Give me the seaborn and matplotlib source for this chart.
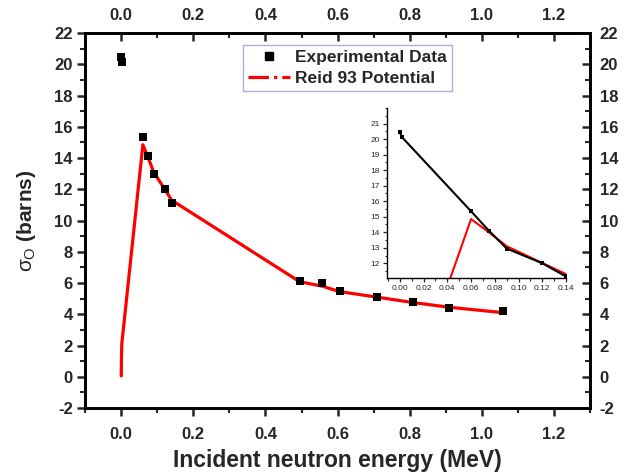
import numpy as np
import pandas as pd
import matplotlib
matplotlib.use("Agg")
import matplotlib.pyplot as plt
from matplotlib.lines import Line2D
from matplotlib.ticker import MultipleLocator
import seaborn as sns

# experimental points (MeV, barns)
exp_energy = [0.0, 0.0015, 0.06, 0.075, 0.09, 0.12, 0.14, 0.495, 0.557, 0.606, 0.708, 0.809, 0.909, 1.06]
exp_sigma = [20.45, 20.15, 15.35, 14.1, 12.95, 12.0, 11.15, 6.12, 6.02, 5.5, 5.12, 4.77, 4.42, 4.23]

# Reid 93 potential curve
reid_energy = [0.0, 0.0005, 0.0015, 0.06, 0.075, 0.09, 0.12, 0.14, 0.495, 0.557, 0.606, 0.708, 0.809, 0.909, 1.06]
reid_sigma = [0.05, 1.0, 2.1, 14.85, 14.0, 13.1, 12.02, 11.3, 6.08, 5.8, 5.45, 5.1, 4.75, 4.45, 4.1]

exp_df = pd.DataFrame({"E": exp_energy, "sigma": exp_sigma})
reid_df = pd.DataFrame({"E": reid_energy, "sigma": reid_sigma})
ins_exp = exp_df[exp_df["E"] <= 0.14]
ins_reid = reid_df[reid_df["E"] <= 0.14]

xt = np.arange(0.0, 1.21, 0.2)
yt = np.arange(-2, 23, 2)

sns.set_theme(style="ticks")
plt.rcParams["font.family"] = ["Liberation Sans", "DejaVu Sans"]
plt.rcParams["mathtext.fontset"] = "custom"
plt.rcParams["mathtext.rm"] = "Liberation Sans"
plt.rcParams["mathtext.it"] = "Liberation Sans"

fig = plt.figure(figsize=(6.31, 4.72), dpi=100)
ax = fig.add_axes([0.135, 0.1356, 0.80, 0.7944])

sns.lineplot(data=reid_df, x="E", y="sigma", ax=ax, color="red", lw=2.3,
             estimator=None, sort=False)
sns.scatterplot(data=exp_df, x="E", y="sigma", ax=ax, color="black", marker="s",
                s=40, linewidth=0, zorder=3)

ax.set_xlim(-0.1, 1.3)
ax.set_ylim(-2, 22)
ax.set_xticks(xt)
ax.set_yticks(yt)
ax.set_xticklabels([f"{v:.1f}" for v in xt], fontweight="bold")
ax.set_yticklabels([f"{v:d}" for v in yt], fontweight="bold")
ax.xaxis.set_minor_locator(MultipleLocator(0.1))
ax.yaxis.set_minor_locator(MultipleLocator(1))
for s in ax.spines.values():
    s.set_linewidth(1.8)
    s.set_color("black")
ax.tick_params(which="major", direction="out", length=6, width=1.8, labelsize=12)
ax.tick_params(axis="x", which="major", pad=8)
ax.tick_params(axis="y", which="major", pad=3)
ax.tick_params(which="minor", direction="out", length=3.5, width=1.5)
ax.set_xlabel("Incident neutron energy (MeV)", fontsize=16.5, fontweight="bold", labelpad=5)
ax.set_ylabel(r"$\sigma_{\rm O}$ (barns)", fontsize=15, fontweight="bold", labelpad=12)

# mirrored top and right axes
axt = ax.twiny()
axt.set_xlim(ax.get_xlim())
axt.set_xticks(xt)
axt.set_xticklabels([f"{v:.1f}" for v in xt], fontweight="bold")
axt.xaxis.set_minor_locator(MultipleLocator(0.1))
axt.tick_params(which="major", direction="in", length=6, width=1.8, labelsize=12, pad=7)
axt.tick_params(which="minor", direction="in", length=3.5, width=1.5)
axr = ax.twinx()
axr.set_ylim(ax.get_ylim())
axr.set_yticks(yt)
axr.set_yticklabels([f"{v:d}" for v in yt], fontweight="bold")
axr.yaxis.set_minor_locator(MultipleLocator(1))
axr.tick_params(which="major", direction="in", length=6, width=1.8, labelsize=12, pad=7)
axr.tick_params(which="minor", direction="in", length=3.5, width=1.5)
for a in (axt, axr):
    for s in a.spines.values():
        s.set_linewidth(1.8)
        s.set_color("black")

handles = [Line2D([], [], color="black", marker="s", ls="none", markersize=6),
           Line2D([], [], color="red", ls="-.", lw=2.3)]
leg = ax.legend(handles, ["Experimental Data", "Reid 93 Potential"],
                loc="upper left", bbox_to_anchor=(0.313, 0.968), frameon=True,
                fancybox=False, edgecolor="#9999dd", borderpad=0.3,
                borderaxespad=0, handlelength=2.4, handletextpad=0.3,
                labelspacing=0.3, prop={"weight": "bold", "size": 12.5})
leg.get_frame().set_linewidth(1.0)

# inset
axi = fig.add_axes([0.613, 0.411, 0.284, 0.36])
sns.lineplot(data=ins_reid, x="E", y="sigma", ax=axi, color="red", lw=1.5,
             estimator=None, sort=False)
sns.lineplot(data=ins_exp, x="E", y="sigma", ax=axi, color="black", lw=1.5,
             estimator=None, sort=False, marker="s", markersize=3.5,
             markeredgewidth=0)
axi.set_xlim(-0.011, 0.14)
axi.set_ylim(11.05, 22)
axi.set_xticks(np.arange(0.0, 0.141, 0.02))
axi.set_xticklabels([f"{v:.2f}" for v in np.arange(0.0, 0.141, 0.02)])
axi.set_yticks(np.arange(12, 21.1, 1))
axi.xaxis.set_minor_locator(MultipleLocator(0.01))
axi.yaxis.set_minor_locator(MultipleLocator(0.5))
axi.patch.set_alpha(0)
axi.spines["top"].set_visible(False)
axi.spines["right"].set_visible(False)
for s in ("left", "bottom"):
    axi.spines[s].set_linewidth(1.0)
    axi.spines[s].set_color("black")
axi.tick_params(which="major", direction="out", length=3, width=0.9, labelsize=6, pad=2)
axi.tick_params(which="minor", direction="out", length=1.8, width=0.8)
axi.set_xlabel("")
axi.set_ylabel("")

fig.savefig("out.png", dpi=100, facecolor="white")
